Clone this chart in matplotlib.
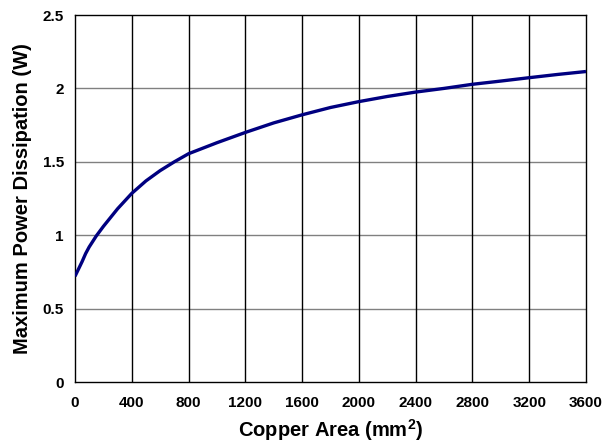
import matplotlib
matplotlib.use("Agg")
import matplotlib.pyplot as plt

area = [0, 25, 50, 75, 100, 150, 200, 300, 400, 500, 600, 700, 800, 1000, 1200, 1400, 1600, 1800, 2000, 2200, 2400, 2600, 2800, 3000, 3200, 3400, 3600]
power = [0.72, 0.77, 0.82, 0.875, 0.92, 0.995, 1.06, 1.18, 1.285, 1.37, 1.44, 1.50, 1.555, 1.63, 1.70, 1.765, 1.82, 1.87, 1.91, 1.945, 1.975, 2.00, 2.028, 2.05, 2.073, 2.095, 2.115]
xticks = [0, 400, 800, 1200, 1600, 2000, 2400, 2800, 3200, 3600]
yticks = [0, 0.5, 1, 1.5, 2, 2.5]
yticklabels = ["0", "0.5", "1", "1.5", "2", "2.5"]

plt.rcParams['font.family'] = ['Liberation Sans', 'DejaVu Sans']
plt.rcParams['mathtext.fontset'] = 'custom'
plt.rcParams['mathtext.bf'] = 'Liberation Sans:bold'
plt.rcParams['mathtext.rm'] = 'Liberation Sans:bold'
fig = plt.figure(figsize=(6.14, 4.45), dpi=100)
ax = fig.add_axes([75/614, 1-382/445, (586-75)/614, (382-15)/445])

for y in yticks[1:-1]:
    ax.axhline(y, color='#808080', lw=1.0, zorder=1)
for x in xticks[1:-1]:
    ax.axvline(x, color='black', lw=1.0, zorder=1)

ax.plot(area, power, color='#000080', lw=2.4, zorder=3, solid_capstyle='butt', solid_joinstyle='round')
ax.set_xlim(0, 3600)
ax.set_ylim(0, 2.5)
ax.set_xticks(xticks)
ax.set_xticklabels([str(t) for t in xticks], fontweight='bold', fontsize=11)
ax.set_yticks(yticks)
ax.set_yticklabels(yticklabels, fontweight='bold', fontsize=11)
ax.tick_params(axis='x', length=0, pad=10)
ax.tick_params(axis='y', length=0, pad=8)
for s in ax.spines.values():
    s.set_linewidth(1.0)
    s.set_color('black')
ax.set_xlabel('Copper Area (mm$^\\mathrm{2}$)', fontweight='bold', fontsize=14.5, labelpad=5)
ax.set_ylabel('Maximum Power Dissipation (W)', fontweight='bold', fontsize=14.5, labelpad=8)
fig.savefig('out.png', dpi=100)
